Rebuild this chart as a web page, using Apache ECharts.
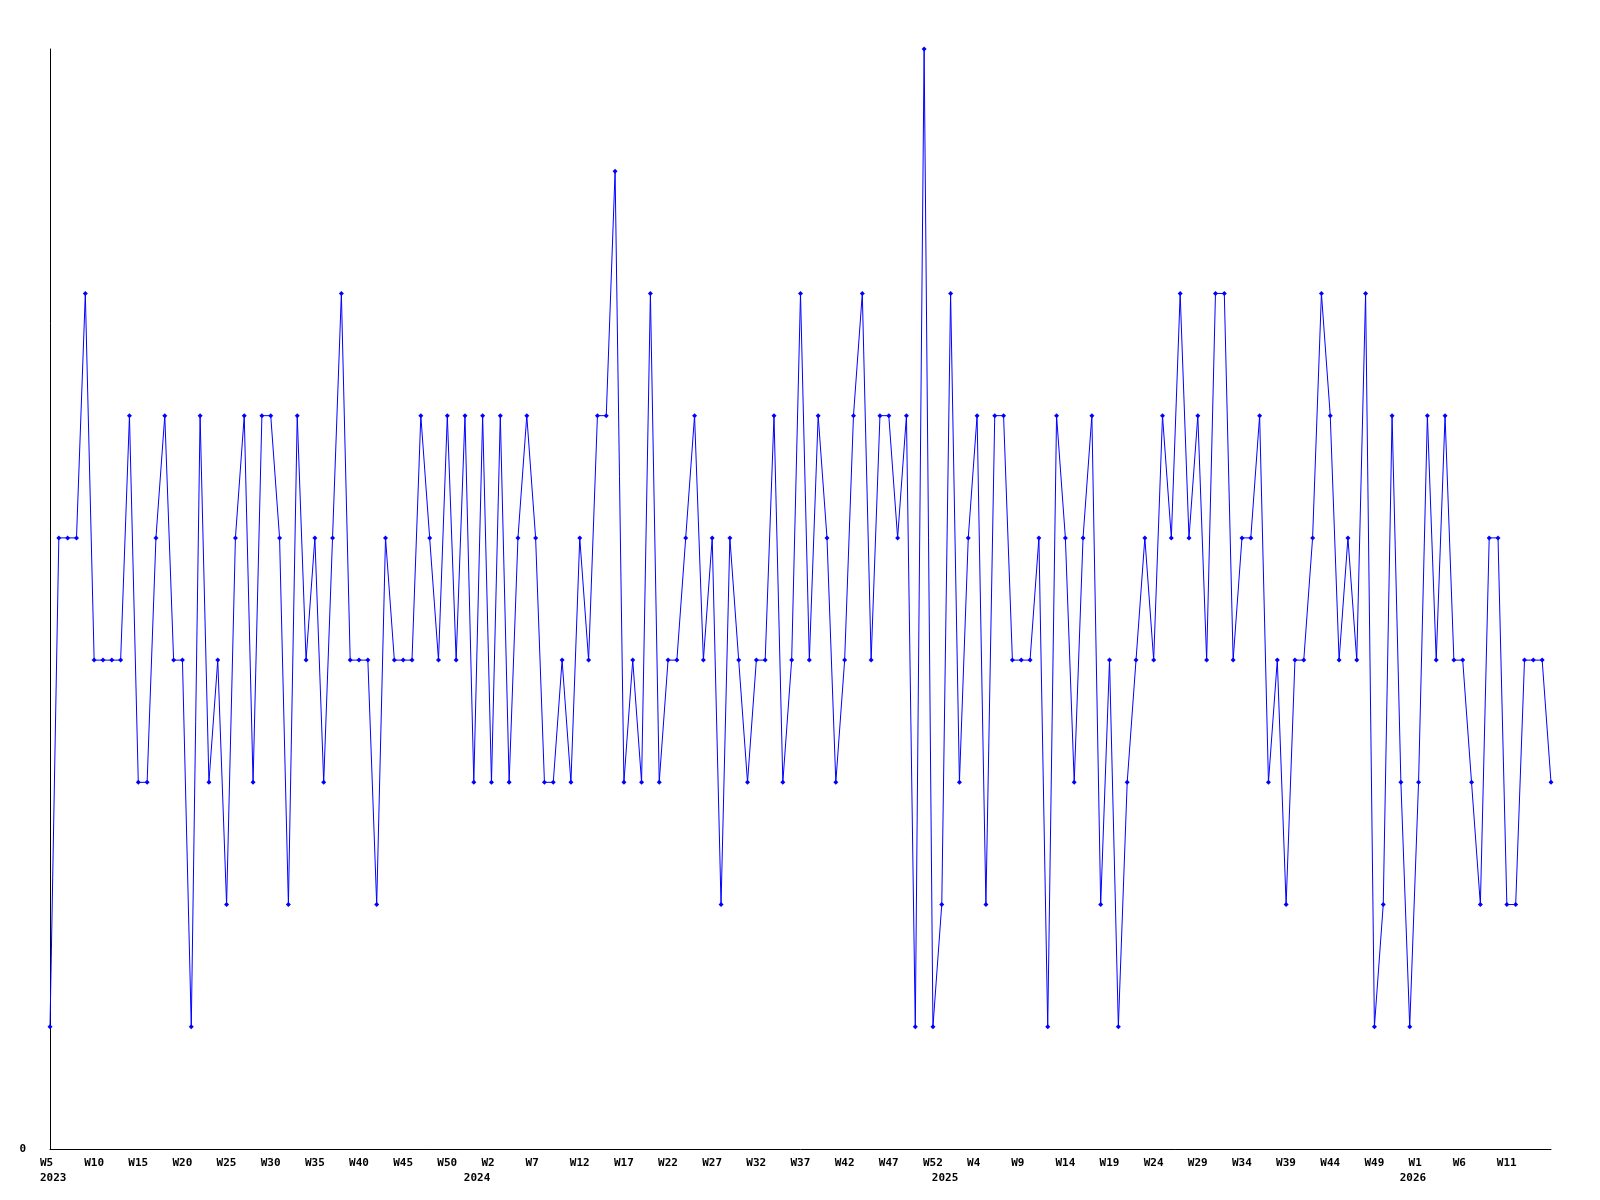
<!DOCTYPE html>
<html>
<head>
<meta charset="utf-8">
<script src="https://cdn.jsdelivr.net/npm/echarts@6/dist/echarts.min.js"></script>
<style>
  html, body { margin: 0; padding: 0; background: #fff; }
  #chart { width: 1600px; height: 1200px; }
</style>
</head>
<body>
<div id="chart"></div>
<script>
// first week shown per year and the last week number of each year
var years = [2023, 2024, 2025, 2026];
var firstWeek = [5, 0, 0, 0];
var lastWeek = [52, 52, 52, 16];

// weekly values, 2023 W5 .. 2026 W16
var values = [
  1,5,5,5,7,4,4,4,4,6,3,3,5,6,4,4,1,6,3,4,2,5,
  6,3,6,6,5,2,6,4,5,3,5,7,4,4,4,2,5,4,4,4,6,
  5,4,6,4,6,3,6,3,6,3,5,6,5,3,3,4,3,5,4,6,6,
  8,3,4,3,7,3,4,4,5,6,4,5,2,5,4,3,4,4,6,3,4,
  7,4,6,5,3,4,6,7,4,6,6,5,6,1,9,1,2,7,3,5,6,
  2,6,6,4,4,4,5,1,6,5,3,5,6,2,4,1,3,4,5,4,6,
  5,7,5,6,4,7,7,4,5,5,6,3,4,2,4,4,5,7,6,4,5,
  4,7,1,2,6,3,1,3,6,4,6,4,4,3,2,5,5,2,2,4,4,4,
  3
];

// category labels: "W<n>" with the year added under the first week of each year
var weeks = [];
years.forEach(function (y, i) {
  for (var w = firstWeek[i]; w <= lastWeek[i]; w++) {
    weeks.push(w === firstWeek[i] ? 'W' + w + '\n' + y : 'W' + w);
  }
});
var lastIdx = weeks.length - 1;

var chart = echarts.init(document.getElementById('chart'));
chart.setOption({
  animation: false,
  grid: {
    left: 50,
    right: 49,
    top: 49,
    bottom: 51
  },
  xAxis: {
    type: 'category',
    boundaryGap: false,
    data: weeks,
    axisLine: { lineStyle: { color: '#000', width: 1 } },
    axisTick: { show: false },
    splitLine: { show: false },
    axisLabel: {
      interval: function (idx, val) {
        // every 5th week (not the very last one), plus the first week of each year
        if (idx === lastIdx) return false;
        return idx % 5 === 0 || val.indexOf('\n') >= 0;
      },
      formatter: function (val, idx) {
        var parts = val.split('\n');
        if (idx % 5 === 0) {
          return parts.length > 1 ? parts[0] + '\n' + parts[1] : parts[0];
        }
        return '\n' + parts[1];
      },
      align: 'left',
      padding: [0, 0, 0, -10],
      margin: 7,
      color: '#000',
      fontFamily: 'DejaVu Sans Mono',
      fontWeight: 'bold',
      fontSize: 11,
      lineHeight: 15
    }
  },
  yAxis: {
    type: 'value',
    min: 0,
    max: 9,
    interval: 1,
    axisLine: { show: true, lineStyle: { color: '#000', width: 1 } },
    axisTick: { show: false },
    splitLine: { show: false },
    axisLabel: {
      margin: 24,
      color: '#000',
      fontFamily: 'DejaVu Sans Mono',
      fontWeight: 'bold',
      fontSize: 11,
      formatter: function (v) { return v === 0 ? '0' : ''; }
    }
  },
  series: [
    {
      type: 'line',
      data: values,
      symbol: 'diamond',
      symbolSize: 5,
      showSymbol: true,
      color: '#0000ff',
      lineStyle: { color: '#0000ff', width: 1 },
      itemStyle: { color: '#0000ff' }
    }
  ]
});
</script>
</body>
</html>
